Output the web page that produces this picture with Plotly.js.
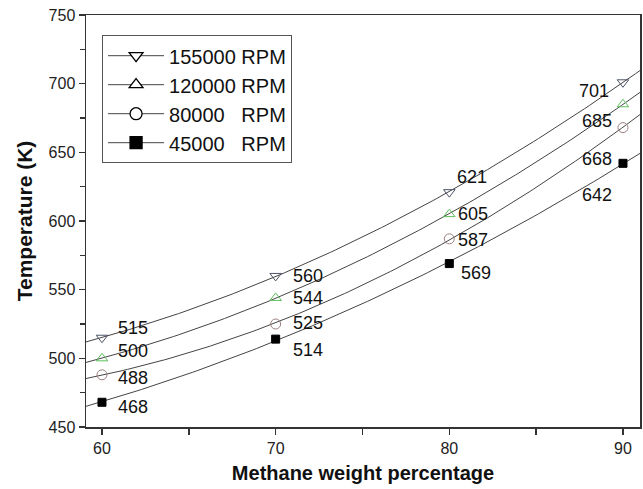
<!DOCTYPE html>
<html>
<head>
<meta charset="utf-8">
<script src="https://cdn.plot.ly/plotly-3.0.1.min.js"></script>
<style>html,body{margin:0;padding:0;background:#fff;}#chart{width:643px;height:489px;}</style>
</head>
<body>
<div id="chart"></div>
<script>
// ---- data ----
const methane = [60, 70, 80, 90];
const rpm155000 = [515, 560, 621, 701];
const rpm120000 = [500, 544, 605, 685];
const rpm80000  = [488, 525, 587, 668];
const rpm45000  = [468, 514, 569, 642];
const seriesNames = ['155000 RPM', '120000 RPM', '80000\u00A0\u00A0 RPM', '45000\u00A0\u00A0 RPM'];

const xRange = [59.08, 90.98];
const yRange = [450, 750];

// quadratic least-squares fit (as in the original figure's fit curves)
function quadFit(xs, ys) {
  let S = [0,0,0,0,0], T = [0,0,0];
  for (let i = 0; i < xs.length; i++) {
    const x = xs[i], y = ys[i];
    for (let k = 0; k < 5; k++) S[k] += Math.pow(x, k);
    for (let k = 0; k < 3; k++) T[k] += y * Math.pow(x, k);
  }
  const A = [[S[0],S[1],S[2],T[0]],[S[1],S[2],S[3],T[1]],[S[2],S[3],S[4],T[2]]];
  for (let c = 0; c < 3; c++) {
    let p = c;
    for (let r = c+1; r < 3; r++) if (Math.abs(A[r][c]) > Math.abs(A[p][c])) p = r;
    [A[c], A[p]] = [A[p], A[c]];
    for (let r = 0; r < 3; r++) if (r !== c) {
      const f = A[r][c] / A[c][c];
      for (let k = c; k < 4; k++) A[r][k] -= f * A[c][k];
    }
  }
  return [A[0][3]/A[0][0], A[1][3]/A[1][1], A[2][3]/A[2][2]];
}
function fitCurve(ys) {
  const c = quadFit(methane, ys);
  const xs = [], yv = [];
  const n = 120;
  for (let i = 0; i <= n; i++) {
    const x = xRange[0] + (xRange[1]-xRange[0]) * i / n;
    xs.push(x); yv.push(c[0] + c[1]*x + c[2]*x*x);
  }
  return {x: xs, y: yv};
}

const allSeries = [rpm155000, rpm120000, rpm80000, rpm45000];
const plotSymbols = ['triangle-down-open', 'triangle-up-open', 'circle-open', 'square'];
const plotColors = ['#4d5468', '#5cbf5c', '#9c8080', '#000000'];
const legendSymbols = ['triangle-down', 'triangle-up', 'circle', 'square'];
const legendFill = ['#fff', '#fff', '#fff', '#000'];
// label offsets (px) per series per point
const labelShift = [
  [[31,10],[32,0],[23,15],[-29,-9]],
  [[31,7],[32,0],[24,0],[-26,-17]],
  [[31,-3],[32,1],[24,-1],[-26,-31]],
  [[31,-5],[32,-11],[27,-9],[-26,-32]]
];

const traces = [];
allSeries.forEach((ys, s) => {
  const f = fitCurve(ys);
  traces.push({x: f.x, y: f.y, mode: 'lines', line: {color: '#444', width: 1}, showlegend: false, hoverinfo: 'skip'});
});
allSeries.forEach((ys, s) => {
  traces.push({x: methane, y: ys, mode: 'markers', showlegend: false,
    marker: {symbol: plotSymbols[s], size: s === 3 ? 8 : 10, color: plotColors[s], line: {width: 1, color: plotColors[s]}}});
});
allSeries.forEach((ys, s) => {
  traces.push({x: [null], y: [null], mode: 'lines+markers', name: seriesNames[s], showlegend: true,
    line: {color: '#444', width: 1},
    marker: {symbol: legendSymbols[s], size: 12, color: legendFill[s], line: {width: 1.3, color: '#000'}}});
});

const annotations = [];
allSeries.forEach((ys, s) => {
  ys.forEach((v, i) => {
    annotations.push({x: methane[i], y: v, text: String(v), showarrow: false,
      xshift: labelShift[s][i][0], yshift: labelShift[s][i][1],
      font: {family: 'Liberation Sans, Arial, sans-serif', size: 18, color: '#111'}});
  });
});

const layout = {
  width: 643, height: 489,
  margin: {l: 86, r: 3, t: 15, b: 62},
  paper_bgcolor: '#fff', plot_bgcolor: '#fff',
  font: {family: 'Liberation Sans, Arial, sans-serif', color: '#222'},
  showlegend: true,
  legend: {x: 0.029, y: 0.951, xanchor: 'left', yanchor: 'top', bgcolor: '#fff',
    bordercolor: '#555', borderwidth: 1, font: {size: 20, color: '#111'}, itemwidth: 56, tracegroupgap: 0},
  xaxis: {range: xRange, tickvals: [60, 70, 80, 90], ticks: 'outside', ticklen: 6, tickwidth: 1.5, tickcolor: '#333',
    minor: {tickvals: [65, 75, 85], ticks: 'outside', ticklen: 6, tickwidth: 1.5, tickcolor: '#333', showgrid: false},
    showline: true, linecolor: '#333', linewidth: 1.5, mirror: true, showgrid: false, zeroline: false,
    tickfont: {size: 16, color: '#222'},
    title: {text: 'Methane weight percentage', font: {size: 20, color: '#111', weight: 'bold'}, standoff: 10}},
  yaxis: {range: yRange, tickvals: [450, 500, 550, 600, 650, 700, 750], ticks: 'outside', ticklen: 6, tickwidth: 1.5, tickcolor: '#333',
    minor: {tickvals: [475, 525, 575, 625, 675, 725], ticks: 'outside', ticklen: 5, tickwidth: 1.5, tickcolor: '#333', showgrid: false},
    showline: true, linecolor: '#333', linewidth: 1.5, mirror: true, showgrid: false, zeroline: false,
    tickfont: {size: 16, color: '#222'},
    title: {text: 'Temperature (K)', font: {size: 21, color: '#111', weight: 'bold'}, standoff: 10}},
  annotations: annotations
};

Plotly.newPlot('chart', traces, layout, {displayModeBar: false, staticPlot: true});
</script>
</body>
</html>
